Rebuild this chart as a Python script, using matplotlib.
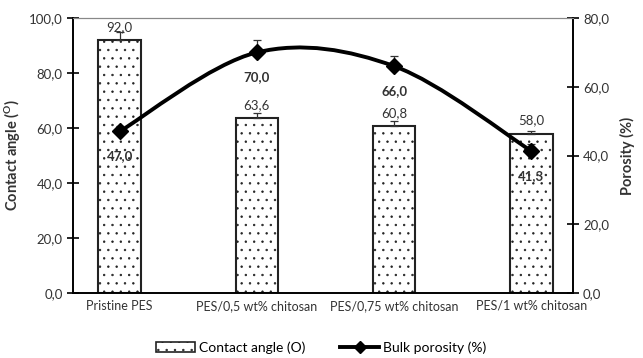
import matplotlib.pyplot as plt
from matplotlib.path import Path
from matplotlib.patches import PathPatch
from matplotlib.lines import Line2D
from matplotlib.patches import Patch

plt.rcParams['font.family'] = ['Lato', 'DejaVu Sans']
plt.rcParams['mathtext.fontset'] = 'custom'
plt.rcParams['mathtext.rm'] = 'Lato'
plt.rcParams['mathtext.bf'] = 'Lato:bold'
plt.rcParams['hatch.linewidth'] = 0.5

categories = ['Pristine PES', 'PES/0,5 wt% chitosan', 'PES/0,75 wt% chitosan', 'PES/1 wt% chitosan']
contact_angle = [92.0, 63.6, 60.8, 58.0]
contact_err = [3.0, 2.0, 1.8, 0.8]
porosity = [47.0, 70.0, 66.0, 41.3]
porosity_err = [1.5, 3.5, 3.0, 2.0]


def fmt(v):
    return f'{v:.1f}'.replace('.', ',')


fig = plt.figure(figsize=(6.43, 3.58), dpi=100)
ax = fig.add_axes([0.1135, 0.1816, 0.777, 0.768])
ax2 = ax.twinx()

x = list(range(len(categories)))
ax.bar(x, contact_angle, width=0.31, color='white', edgecolor='#222222',
       linewidth=1.5, hatch='..', zorder=2)
ax.errorbar(x, contact_angle, yerr=[[0] * 4, contact_err], fmt='none',
            ecolor='#333333', elinewidth=0.9, capsize=3, capthick=0.9, zorder=3)
for xi, v, e in zip(x, contact_angle, contact_err):
    ax.annotate(fmt(v), (xi, v), xytext=(0, 5), textcoords='offset points',
                ha='center', va='bottom', fontsize=9.5, color='#333333')

ax.set_xlim(-0.34, 3.3)
ax.set_ylim(0, 100)
ax.set_yticks([0, 20, 40, 60, 80, 100])
ax.set_yticklabels([fmt(t) for t in [0, 20, 40, 60, 80, 100]])
ax.set_xticks(x)
ax.set_xticklabels(categories)
ax.tick_params(axis='x', length=0, pad=5, labelsize=9, colors='#333333')
ax.tick_params(axis='y', direction='inout', length=8, width=1.2,
               labelsize=9.5, labelcolor='#333333')
ax.set_ylabel('Contact angle ($\\mathbf{^{O}}$)', fontsize=10.5, fontweight='bold',
              color='#333333', labelpad=4)

# smoothed porosity curve (Catmull-Rom style, as in spreadsheet charts)
pts = list(zip(x, porosity))
verts = [pts[0]]
codes = [Path.MOVETO]
for i in range(len(pts) - 1):
    p0 = pts[i - 1] if i > 0 else pts[i]
    p1 = pts[i]
    p2 = pts[i + 1]
    p3 = pts[i + 2] if i + 2 < len(pts) else pts[i + 1]
    c1 = (p1[0] + (p2[0] - p0[0]) / 6, p1[1] + (p2[1] - p0[1]) / 6)
    c2 = (p2[0] - (p3[0] - p1[0]) / 6, p2[1] - (p3[1] - p1[1]) / 6)
    verts += [c1, c2, p2]
    codes += [Path.CURVE4] * 3
ax2.add_patch(PathPatch(Path(verts, codes), facecolor='none', edgecolor='black',
                        linewidth=2.8, zorder=4))
ax2.errorbar(x, porosity, yerr=[[0] * 4, porosity_err], fmt='none',
             ecolor='#333333', elinewidth=0.9, capsize=3, capthick=0.9, zorder=4)
ax2.plot(x, porosity, linestyle='none', marker='D', markersize=8,
         color='black', zorder=5)
for xi, v in zip(x, porosity):
    ax2.annotate(fmt(v), (xi, v), xytext=(0, -18), textcoords='offset points',
                 ha='center', va='center', fontsize=9.5, fontweight='bold',
                 color='#333333')

ax2.set_ylim(0, 80)
ax2.set_yticks([0, 20, 40, 60, 80])
ax2.set_yticklabels([fmt(t) for t in [0, 20, 40, 60, 80]])
ax2.tick_params(axis='y', direction='inout', length=8, width=1.2,
                labelsize=9.5, labelcolor='#333333')
ax2.set_ylabel('Porosity (%)', fontsize=10.5, fontweight='bold', color='#333333',
               labelpad=8)

for a in (ax, ax2):
    a.spines['top'].set_color('#888888')
    a.spines['top'].set_linewidth(0.8)
    a.spines['left'].set_linewidth(1.2)
    a.spines['right'].set_linewidth(1.2)
    a.spines['bottom'].set_linewidth(1.2)

handles = [Patch(facecolor='white', edgecolor='#222222', hatch='..', linewidth=1.2),
           Line2D([], [], color='black', linewidth=2.8, marker='D', markersize=6)]
fig.legend(handles, ['Contact angle (O)', 'Bulk porosity (%)'],
           loc='center', bbox_to_anchor=(0.5, 0.03), ncol=2, frameon=False,
           fontsize=10, handlelength=2.8, columnspacing=2.5, handletextpad=0.3)

fig.savefig('out.png', dpi=100)
